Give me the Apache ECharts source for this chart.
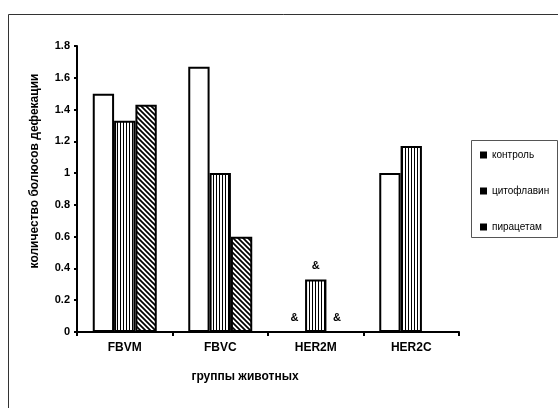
<!DOCTYPE html>
<html>
<head>
<meta charset="utf-8">
<script src="https://cdn.jsdelivr.net/npm/echarts@6/dist/echarts.min.js"></script>
<style>
  html, body { margin: 0; padding: 0; background: #fff; }
  #chart { width: 558px; height: 408px; }
</style>
</head>
<body>
<div id="chart"></div>
<script>
// Groups of animals and mean number of defecation boluses
const categories = ['FBVM', 'FBVC', 'HER2M', 'HER2C'];
const control    = [1.5, 1.67, 0, 1.0];
const cytoflavin = [1.33, 1.0, 0.33, 1.17];
const piracetam  = [1.43, 0.6, 0, null];
const seriesNames = ['контроль', 'цитофлавин', 'пирацетам'];
// significance marks per group (empty string = none)
const marksControl    = ['', '', '&', ''];
const marksCytoflavin = ['', '', '&', ''];
const marksPiracetam  = ['', '', '&', ''];
const yTicks = { min: 0, max: 1.8, step: 0.2 };

const FONT = '"Liberation Sans", Arial, sans-serif';

// Hatch fills
function verticalStripes() {
  const c = document.createElement('canvas');
  c.width = 3; c.height = 3;
  const g = c.getContext('2d');
  g.fillStyle = '#fff'; g.fillRect(0, 0, 3, 3);
  g.fillStyle = '#000'; g.fillRect(0, 0, 1, 3);
  return c;
}
function diagonalStripes() {
  const s = 5;
  const c = document.createElement('canvas');
  c.width = s; c.height = s;
  const g = c.getContext('2d');
  g.fillStyle = '#fff'; g.fillRect(0, 0, s, s);
  g.strokeStyle = '#000'; g.lineWidth = 1.7;
  g.beginPath();
  g.moveTo(-1, -1); g.lineTo(s + 1, s + 1);
  g.moveTo(-1, s - 1); g.lineTo(1, s + 1);
  g.moveTo(s - 1, -1); g.lineTo(s + 1, 1);
  g.stroke();
  return c;
}

function withMarks(values, marks) {
  return values.map((v, i) => ({
    value: v,
    label: { show: marks[i] !== '', formatter: marks[i] }
  }));
}

const barLabel = {
  position: 'top',
  distance: 8,
  color: '#000',
  fontFamily: FONT,
  fontWeight: 'bold',
  fontSize: 11
};

const baseBar = {
  type: 'bar',
  barGap: '0%',
  barCategoryGap: '33%',
  label: barLabel,
  emphasis: { disabled: true }
};

const chart = echarts.init(document.getElementById('chart'), null, { renderer: 'canvas' });

chart.setOption({
  animation: false,
  backgroundColor: '#fff',
  grid: { left: 77, right: 99, top: 46, bottom: 76 },
  legend: {
    orient: 'vertical',
    left: 480,
    top: 150,
    padding: 0,
    itemWidth: 7,
    itemHeight: 7,
    itemGap: 26,
    icon: 'rect',
    textStyle: { fontFamily: FONT, fontSize: 10, color: '#000' },
    data: seriesNames.map(n => ({ name: n, itemStyle: { color: '#000', borderWidth: 0 } }))
  },
  xAxis: {
    type: 'category',
    data: categories,
    axisLine: { lineStyle: { color: '#000', width: 2 } },
    axisTick: { show: true, length: 4, inside: false, lineStyle: { color: '#000', width: 2 } },
    axisLabel: { fontFamily: FONT, fontWeight: 'bold', fontSize: 12, color: '#000', margin: 10 }
  },
  yAxis: {
    type: 'value',
    min: yTicks.min,
    max: yTicks.max,
    interval: yTicks.step,
    splitLine: { show: false },
    axisLine: { show: true, lineStyle: { color: '#000', width: 2 } },
    axisTick: { show: true, length: 3, lineStyle: { color: '#000', width: 2 } },
    axisLabel: { fontFamily: FONT, fontWeight: 'bold', fontSize: 11, color: '#000', margin: 7 }
  },
  series: [
    Object.assign({}, baseBar, {
      name: seriesNames[0],
      data: withMarks(control, marksControl),
      itemStyle: { color: '#fff', borderColor: '#000', borderWidth: 2 }
    }),
    Object.assign({}, baseBar, {
      name: seriesNames[1],
      data: withMarks(cytoflavin, marksCytoflavin),
      itemStyle: { color: { image: verticalStripes(), repeat: 'repeat' }, borderColor: '#000', borderWidth: 2 }
    }),
    Object.assign({}, baseBar, {
      name: seriesNames[2],
      data: withMarks(piracetam, marksPiracetam),
      itemStyle: { color: { image: diagonalStripes(), repeat: 'repeat' }, borderColor: '#000', borderWidth: 2 }
    })
  ],
  graphic: [
    // outer frame
    { type: 'rect', shape: { x: 8.5, y: 14.5, width: 600, height: 420 },
      style: { fill: null, stroke: '#333', lineWidth: 1 }, silent: true, z: -1 },
    // legend frame
    { type: 'rect', shape: { x: 471.5, y: 140.5, width: 86, height: 97 },
      style: { fill: null, stroke: '#555', lineWidth: 1 }, silent: true },
    // axis titles
    { type: 'text', x: 245, y: 377,
      style: { text: 'группы животных', font: 'bold 12px ' + FONT, fill: '#000', align: 'center', verticalAlign: 'middle' } },
    { type: 'text', x: 35, y: 171, rotation: Math.PI / 2,
      style: { text: 'количество болюсов дефекации', font: 'bold 12px ' + FONT, fill: '#000', align: 'center', verticalAlign: 'middle' } }
  ]
});
</script>
</body>
</html>
